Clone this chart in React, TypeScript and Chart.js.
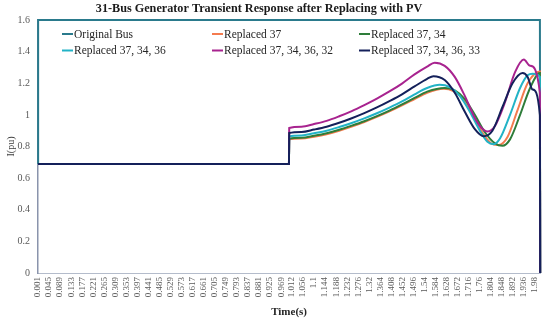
import React, { useEffect, useRef } from 'react';
import { Chart, registerables } from 'chart.js';

Chart.register(...registerables);

const chartTitle = '31-Bus Generator Transient Response after Replacing with PV';
const yAxisTitle = 'I(pu)';
const xAxisTitle = 'Time(s)';

const seriesNames = [
  'Original Bus',
  'Replaced 37',
  'Replaced 37, 34',
  'Replaced 37, 34, 36',
  'Replaced 37, 34, 36, 32',
  'Replaced 37, 34, 36, 33',
];
const seriesColors = ['#2a7a8c', '#f47b4f', '#2e7d3a', '#22b3c6', '#a8238f', '#14205a'];

const tickLabels = [
  '0.001', '0.045', '0.089', '0.133', '0.177', '0.221', '0.265', '0.309', '0.353', '0.397',
  '0.441', '0.485', '0.529', '0.573', '0.617', '0.661', '0.705', '0.749', '0.793', '0.837',
  '0.881', '0.925', '0.969', '1.012', '1.056', '1.1', '1.144', '1.188', '1.232', '1.276',
  '1.32', '1.364', '1.408', '1.452', '1.496', '1.54', '1.584', '1.628', '1.672', '1.716',
  '1.76', '1.804', '1.848', '1.892', '1.936', '1.98',
];

const timeOriginal = [0.001, 0.0015, 1.999, 2.0];
const valueOriginal = [0.69, 1.6, 1.6, 0];

const timeR37 = [0.001, 1.0, 1.001, 1.05, 1.1, 1.15, 1.2, 1.25, 1.3, 1.35, 1.4, 1.45, 1.5, 1.55, 1.615, 1.655, 1.695, 1.735, 1.775, 1.81, 1.835, 1.87, 1.91, 1.95, 1.999, 2.0];
const valueR37 = [0.69, 0.69, 0.845, 0.85, 0.862, 0.878, 0.9, 0.926, 0.955, 0.987, 1.022, 1.06, 1.1, 1.14, 1.165, 1.15, 1.095, 0.99, 0.875, 0.815, 0.81, 0.86, 1.03, 1.2, 1.275, 0];

const timeR3734 = [0.001, 1.0, 1.001, 1.05, 1.1, 1.15, 1.2, 1.25, 1.3, 1.35, 1.4, 1.45, 1.5, 1.55, 1.62, 1.66, 1.7, 1.74, 1.78, 1.82, 1.85, 1.88, 1.92, 1.96, 1.999, 2.0];
const valueR3734 = [0.69, 0.69, 0.849, 0.855, 0.868, 0.884, 0.906, 0.932, 0.96, 0.992, 1.027, 1.066, 1.107, 1.147, 1.17, 1.155, 1.1, 1.0, 0.89, 0.82, 0.805, 0.845, 1.0, 1.17, 1.265, 0];

const timeR373436 = [0.001, 1.0, 1.001, 1.05, 1.1, 1.15, 1.2, 1.25, 1.3, 1.35, 1.4, 1.45, 1.5, 1.55, 1.6, 1.64, 1.68, 1.72, 1.76, 1.79, 1.815, 1.84, 1.88, 1.92, 1.95, 1.97, 1.999, 2.0];
const valueR373436 = [0.69, 0.69, 0.864, 0.87, 0.884, 0.9, 0.923, 0.949, 0.978, 1.01, 1.046, 1.085, 1.13, 1.17, 1.19, 1.175, 1.12, 1.02, 0.9, 0.83, 0.815, 0.85, 1.0, 1.17, 1.25, 1.26, 1.24, 0];

const timeR32 = [0.001, 1.0, 1.001, 1.05, 1.1, 1.15, 1.2, 1.25, 1.3, 1.35, 1.4, 1.45, 1.5, 1.55, 1.58, 1.62, 1.66, 1.7, 1.74, 1.765, 1.79, 1.82, 1.86, 1.9, 1.935, 1.96, 1.999, 2.0];
const valueR32 = [0.69, 0.69, 0.917, 0.925, 0.942, 0.962, 0.991, 1.024, 1.062, 1.103, 1.148, 1.198, 1.256, 1.305, 1.33, 1.31, 1.24, 1.12, 0.98, 0.92, 0.895, 0.93, 1.08, 1.27, 1.35, 1.31, 1.14, 0];

const timeR33 = [0.001, 1.0, 1.001, 1.05, 1.1, 1.15, 1.2, 1.25, 1.3, 1.35, 1.4, 1.45, 1.5, 1.55, 1.575, 1.62, 1.66, 1.7, 1.74, 1.775, 1.81, 1.85, 1.89, 1.93, 1.95, 1.97, 1.999, 2.0];
const valueR33 = [0.69, 0.69, 0.885, 0.892, 0.907, 0.925, 0.95, 0.979, 1.011, 1.047, 1.087, 1.13, 1.18, 1.228, 1.245, 1.22, 1.14, 1.02, 0.91, 0.865, 0.9, 1.05, 1.2, 1.265, 1.24, 1.16, 1.0, 0];

const seriesTimes = [timeOriginal, timeR37, timeR3734, timeR373436, timeR32, timeR33];
const seriesValues = [valueOriginal, valueR37, valueR3734, valueR373436, valueR32, valueR33];

const FONT = "'Liberation Serif', 'Times New Roman', serif";

const overlayPlugin = {
  id: 'overlayText',
  afterDraw(chart: any) {
    const ctx = chart.ctx;
    const area = chart.chartArea;
    ctx.save();
    ctx.font = `bold 12.2px ${FONT}`;
    ctx.fillStyle = '#1a1a1a';
    ctx.textAlign = 'center';
    ctx.textBaseline = 'middle';
    ctx.fillText(chartTitle, 259, 9);
    ctx.font = `11.5px ${FONT}`;
    ctx.textAlign = 'left';
    const colX = [area.left + 24, area.left + 174, area.left + 321];
    const rowY = [area.top + 14, area.top + 30.5];
    seriesNames.forEach((name, i) => {
      const x = colX[i % 3];
      const y = rowY[Math.floor(i / 3)];
      ctx.strokeStyle = seriesColors[i];
      ctx.lineWidth = 2;
      ctx.beginPath();
      ctx.moveTo(x, y);
      ctx.lineTo(x + 11, y);
      ctx.stroke();
      ctx.fillStyle = '#262626';
      ctx.fillText(name, x + 12, y + 0.5);
    });
    ctx.restore();
  },
};

export default function App() {
  const canvasRef = useRef<HTMLCanvasElement | null>(null);

  useEffect(() => {
    if (!canvasRef.current) return;
    const datasets = seriesNames.map((name, i) => ({
      label: name,
      data: seriesTimes[i].map((t, j) => ({ x: t, y: seriesValues[i][j] })),
      borderColor: seriesColors[i],
      backgroundColor: seriesColors[i],
      borderWidth: 2,
      pointRadius: 0,
      fill: false,
      clip: 3,
      order: seriesNames.length - i,
      tension: i === 0 ? 0 : 0.4,
      cubicInterpolationMode: i === 0 ? 'default' : 'monotone',
    }));

    const chart = new Chart(canvasRef.current, {
      type: 'line',
      data: { datasets } as any,
      options: {
        animation: false,
        responsive: false,
        layout: { padding: { top: 20, right: 6, left: 0, bottom: 0 } },
        plugins: {
          legend: { display: false },
          title: { display: false },
          tooltip: { enabled: false },
        },
        scales: {
          x: {
            type: 'linear',
            min: 0.001,
            max: 2.0,
            afterBuildTicks: (scale: any) => {
              scale.ticks = tickLabels.map((l) => ({ value: parseFloat(l) }));
            },
            afterFit: (scale: any) => {
              scale.height = 48;
            },
            grid: { display: false, drawTicks: false },
            border: { display: true, color: '#b4bccb', width: 1 },
            ticks: {
              autoSkip: false,
              minRotation: 90,
              maxRotation: 90,
              padding: 4,
              color: '#595959',
              font: { family: FONT, size: 9 },
              callback: (_v: any, index: number) => tickLabels[index],
            },
            title: {
              display: true,
              text: xAxisTitle,
              color: '#262626',
              font: { family: FONT, size: 11, weight: 'bold' },
              padding: { top: 0, bottom: 2 },
            },
          },
          y: {
            type: 'linear',
            min: 0,
            max: 1.6,
            afterFit: (scale: any) => {
              scale.width = 38;
            },
            grid: { display: false, drawTicks: false },
            border: { display: true, color: '#8a94ac', width: 1.5 },
            ticks: {
              stepSize: 0.2,
              padding: 8,
              color: '#595959',
              font: { family: FONT, size: 10 },
              callback: (v: any) => String(Math.round(Number(v) * 10) / 10),
            },
            title: {
              display: true,
              text: yAxisTitle,
              color: '#404040',
              font: { family: FONT, size: 10 },
              padding: { top: 5.5, bottom: 0 },
            },
          },
        },
      } as any,
      plugins: [overlayPlugin],
    });

    return () => chart.destroy();
  }, []);

  return (
    <div style={{ position: 'absolute', left: 0, top: 0, width: 550, height: 321, background: '#fff' }}>
      <canvas ref={canvasRef} width={550} height={321} />
    </div>
  );
}
